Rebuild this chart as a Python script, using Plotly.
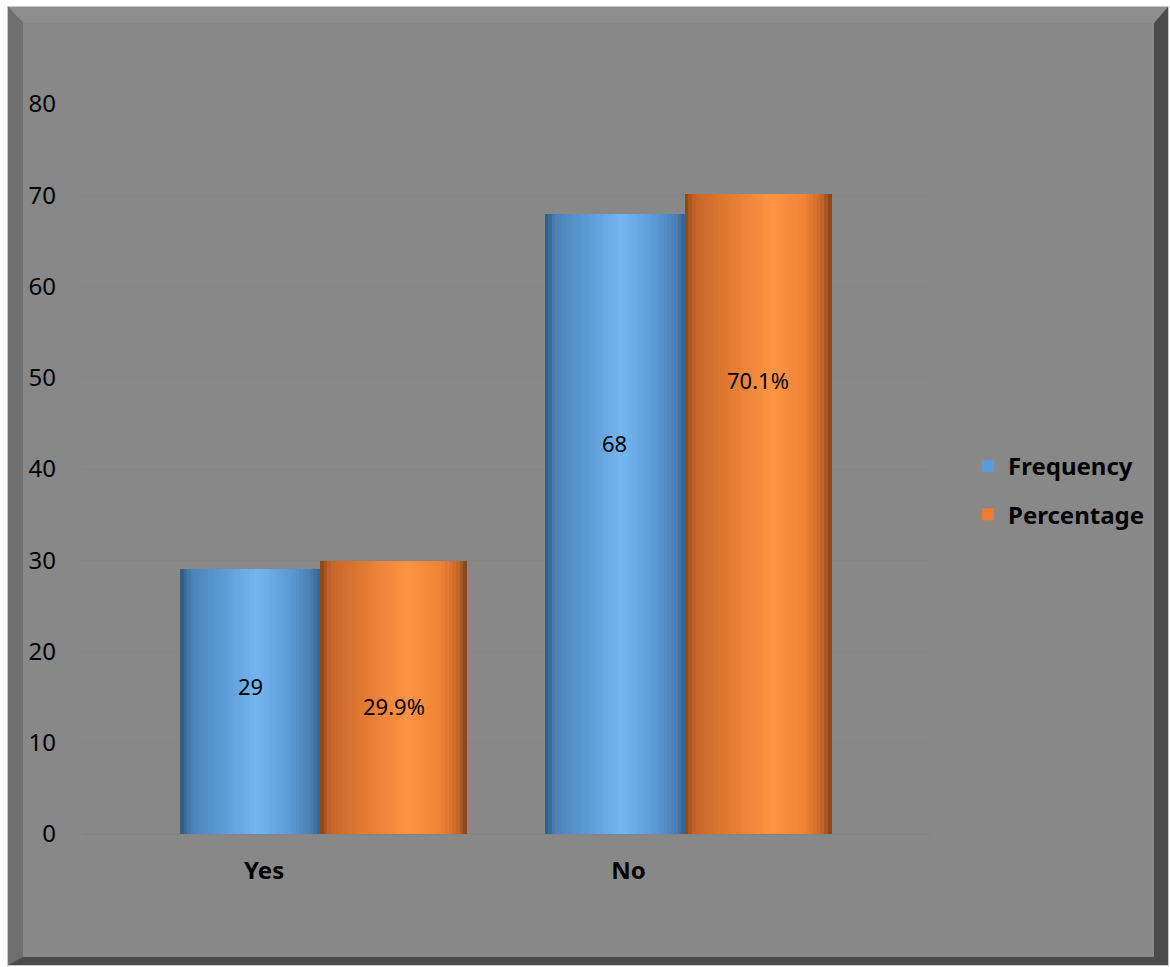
import plotly.graph_objects as go

categories = ["Yes", "No"]
frequency = [29, 68]
percentage = [29.9, 70.1]
freq_labels = ["29", "68"]
pct_labels = ["29.9%", "70.1%"]
y_ticks = [0, 10, 20, 30, 40, 50, 60, 70, 80]

# layout constants (pixels)
W, H = 1170, 967
L, R, T, B = 82, 930, 104, 834

def px_x(p):
    return (p - L) / (R - L)

def px_y(p):
    return (B - p) / (B - T)

def hex2rgb(h):
    h = h.lstrip("#")
    return [int(h[i:i + 2], 16) for i in (0, 2, 4)]

def grad(stops, t):
    for (p0, c0), (p1, c1) in zip(stops, stops[1:]):
        if p0 <= t <= p1:
            f = (t - p0) / (p1 - p0) if p1 > p0 else 0
            a, b = hex2rgb(c0), hex2rgb(c1)
            return "rgb(%d,%d,%d)" % tuple(round(a[i] + (b[i] - a[i]) * f) for i in range(3))
    return stops[-1][1]

blue_stops = [(0, "#2f5677"), (0.08, "#4a83ba"), (0.3, "#5d9ad5"), (0.55, "#74b6f0"),
              (0.8, "#5a98d3"), (0.93, "#4a80b5"), (1, "#36618a")]
orange_stops = [(0, "#874315"), (0.07, "#c5652a"), (0.3, "#e27a34"), (0.6, "#ff9444"),
                (0.82, "#ef8236"), (0.93, "#c86a2a"), (1, "#7e4118")]

xs = list(range(len(categories)))
fig = go.Figure()

N = 40
series = [
    ("Frequency", frequency, -0.3937, 0.3841, blue_stops, "#5b9bd5"),
    ("Percentage", percentage, -0.0096, 0.4033, orange_stops, "#ed7d31"),
]
for name, vals, off, wid, stops, legc in series:
    sw = wid / N
    for k in range(N):
        t = (k + 0.5) / N
        fig.add_trace(go.Bar(
            x=xs, y=vals, width=[sw * 1.1] * len(xs), offset=off + k * sw,
            marker=dict(color=grad(stops, t), line=dict(width=0)),
            showlegend=False, hoverinfo="skip"))
    # legend proxy
    fig.add_trace(go.Bar(x=[None], y=[None], name=name, legendgroup=name,
                         marker=dict(color=legc, line=dict(width=0)), showlegend=True))

# data labels
label_frac_f = [0.56, 0.63]
label_frac_p = [0.47, 0.71]
for i in xs:
    fig.add_annotation(x=i - 0.3937 + 0.3841 / 2, y=frequency[i] * label_frac_f[i],
                       text=freq_labels[i], showarrow=False,
                       font=dict(size=22, color="black", family="Noto Sans"))
    fig.add_annotation(x=i - 0.0096 + 0.4033 / 2, y=percentage[i] * label_frac_p[i],
                       text=pct_labels[i], showarrow=False,
                       font=dict(size=22, color="black", family="Noto Sans"))

# frame / bevel shapes
def path(pts):
    return "M " + " L ".join("%f,%f" % (px_x(a), px_y(b)) for a, b in pts) + " Z"

shapes = [
    dict(type="path", path=path([(7, 6), (1169, 6), (1169, 966), (7, 966)]),
         fillcolor="#c8c8c8", line=dict(width=0)),
    dict(type="path", path=path([(8, 7), (1168, 7), (1168, 965), (8, 965)]),
         fillcolor="#4b4b4b", line=dict(width=0)),
    dict(type="path", path=path([(8, 7), (1168, 7), (1154, 23), (23, 23)]),
         fillcolor="#8d8d8d", line=dict(width=0)),
    dict(type="path", path=path([(8, 7), (23, 23), (23, 957), (8, 965)]),
         fillcolor="#6f6f6f", line=dict(width=0)),
    dict(type="path", path=path([(23, 23), (1154, 23), (1154, 957), (23, 957)]),
         fillcolor="#888888", line=dict(width=0)),
]
for s in shapes:
    s.update(xref="paper", yref="paper", layer="below")

px_per_unit = 364.5
x0 = 0 - (323.5 - L) / px_per_unit
x1 = 0 + (R - 323.5) / px_per_unit

fig.update_layout(
    width=W, height=H,
    margin=dict(l=L, r=W - R, t=T, b=H - B, pad=0),
    paper_bgcolor="white", plot_bgcolor="rgba(0,0,0,0)",
    barmode="overlay", bargap=0,
    shapes=shapes,
    font=dict(family="Noto Sans", color="black"),
    xaxis=dict(range=[x0, x1], tickvals=[i - 0.163 for i in xs], ticktext=categories,
               tickfont=dict(size=24, family="Noto Sans", color="black", weight="bold"),
               showgrid=False, zeroline=False, showline=False, ticks="",
               ticklabelstandoff=20, fixedrange=True),
    yaxis=dict(range=[0, 80], tickvals=y_ticks, ticks="",
               tickfont=dict(size=24, family="Noto Sans", color="black"),
               showgrid=True, gridcolor="#848484", gridwidth=1,
               zeroline=True, zerolinecolor="#848484", showline=False,
               ticklabelstandoff=25),
    legend=dict(x=px_x(968), y=px_y(444), xanchor="left", yanchor="top",
                bgcolor="rgba(0,0,0,0)", tracegroupgap=14, itemwidth=30,
                font=dict(size=24, family="Noto Sans", color="black", weight="bold")),
    showlegend=True,
)

fig.write_html("out.html")
